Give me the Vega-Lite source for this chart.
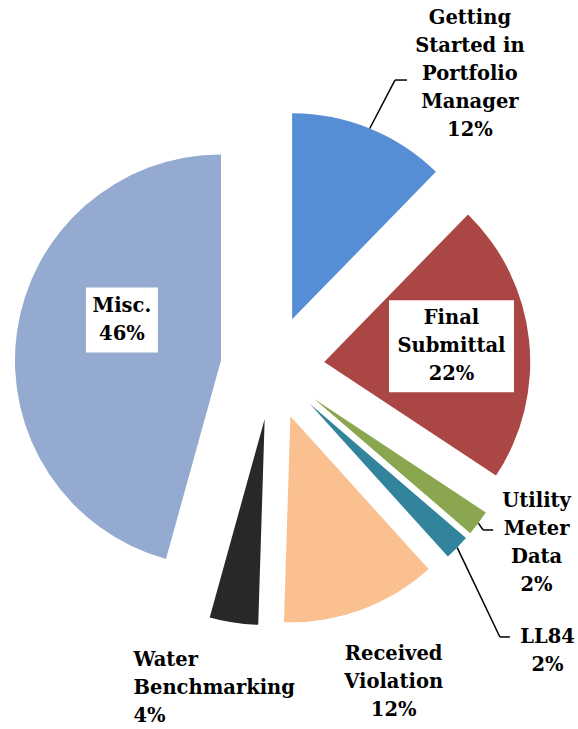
{
  "$schema": "https://vega.github.io/schema/vega-lite/v6.json",
  "width": 545,
  "height": 723,
  "autosize": {"type": "none"},
  "padding": {"left": 0, "right": 33, "top": 6, "bottom": 0},
  "background": "white",
  "view": {"stroke": null},
  "data": {
    "values": [
      {"i": 0, "cat": "Getting Started in Portfolio Manager", "label": "Getting\nStarted in\nPortfolio\nManager\n12%", "v": 12.3},
      {"i": 1, "cat": "Final Submittal", "label": "Final\nSubmittal\n22%", "v": 22.0},
      {"i": 2, "cat": "Utility Meter Data", "label": "Utility\nMeter\nData\n2%", "v": 2.0},
      {"i": 3, "cat": "LL84", "label": "LL84\n2%", "v": 2.0},
      {"i": 4, "cat": "Received Violation", "label": "Received\nViolation\n12%", "v": 12.2},
      {"i": 5, "cat": "Water Benchmarking", "label": "Water\nBenchmarking\n4%", "v": 3.8},
      {"i": 6, "cat": "Misc.", "label": "Misc.\n46%", "v": 45.7}
    ]
  },
  "transform": [
    {"stack": "v", "groupby": [], "sort": [{"field": "i", "order": "ascending"}], "as": ["a0", "a1"]}
  ],
  "layer": [
    {
      "mark": {
        "type": "arc",
        "outerRadius": 206,
        "x": {"expr": "width/2 + 52*sin(PI*(datum.a0+datum.a1)/100)"},
        "y": {"expr": "height/2 - 52*cos(PI*(datum.a0+datum.a1)/100)"}
      },
      "encoding": {
        "theta": {"field": "a0", "type": "quantitative", "stack": null, "scale": {"domain": [0, 100]}},
        "theta2": {"field": "a1"},
        "color": {
          "field": "cat",
          "type": "nominal",
          "legend": null,
          "scale": {
            "domain": ["Getting Started in Portfolio Manager", "Final Submittal", "Utility Meter Data", "LL84", "Received Violation", "Water Benchmarking", "Misc."],
            "range": ["#558ED5", "#AA4643", "#8AA64F", "#31849B", "#FAC090", "#282828", "#94AAD1"]
          }
        }
      }
    },
    {
      "transform": [{"filter": {"field": "i", "oneOf": [1, 6]}}],
      "mark": {
        "type": "rect",
        "fill": "white",
        "x": {"expr": "width/2 + (52 + [294,128,264,342,285,274,104][datum.i])*sin(PI*(datum.a0+datum.a1)/100) + [67,0,12,-7,5,-90,4][datum.i] - [0,62.5,0,0,0,0,36][datum.i]"},
        "x2": {"expr": "width/2 + (52 + [294,128,264,342,285,274,104][datum.i])*sin(PI*(datum.a0+datum.a1)/100) + [67,0,12,-7,5,-90,4][datum.i] + [0,62.5,0,0,0,0,36][datum.i]"},
        "y": {"expr": "height/2 - (52 + [294,128,264,342,285,274,104][datum.i])*cos(PI*(datum.a0+datum.a1)/100) + [27,-2,-15,8,-2,-2,-26][datum.i] - [0,46,0,0,0,0,33][datum.i]"},
        "y2": {"expr": "height/2 - (52 + [294,128,264,342,285,274,104][datum.i])*cos(PI*(datum.a0+datum.a1)/100) + [27,-2,-15,8,-2,-2,-26][datum.i] + [0,46,0,0,0,0,32][datum.i]"}
      },
      "encoding": {}
    },
    {
      "transform": [{"filter": {"field": "i", "oneOf": [0, 2, 3]}}],
      "mark": {"type": "rule", "color": "black", "strokeWidth": 1.5},
      "encoding": {
        "x": {"value": {"expr": "width/2 + 258*sin(PI*(datum.a0+datum.a1)/100)"}},
        "y": {"value": {"expr": "height/2 - 258*cos(PI*(datum.a0+datum.a1)/100)"}},
        "x2": {"value": {"expr": "width/2 + (52 + [260.5,0,214,299][datum.i])*sin(PI*(datum.a0+datum.a1)/100) + [4.7,0,-1.6,-23.9][datum.i]"}},
        "y2": {"value": {"expr": "height/2 - (52 + [260.5,0,214,299][datum.i])*cos(PI*(datum.a0+datum.a1)/100) + [2,0,2.1,24.4][datum.i]"}}
      }
    },
    {
      "transform": [{"filter": {"field": "i", "oneOf": [0, 2, 3]}}],
      "mark": {"type": "rule", "color": "black", "strokeWidth": 1.5},
      "encoding": {
        "x": {"value": {"expr": "width/2 + (52 + [260.5,0,214,299][datum.i])*sin(PI*(datum.a0+datum.a1)/100) + [4.7,0,-1.6,-23.9][datum.i]"}},
        "y": {"value": {"expr": "height/2 - (52 + [260.5,0,214,299][datum.i])*cos(PI*(datum.a0+datum.a1)/100) + [2,0,2.1,24.4][datum.i]"}},
        "x2": {"value": {"expr": "width/2 + (52 + [260.5,0,214,299][datum.i])*sin(PI*(datum.a0+datum.a1)/100) + [4.7,0,-1.6,-23.9][datum.i] + [12,0,10,10][datum.i]"}},
        "y2": {"value": {"expr": "height/2 - (52 + [260.5,0,214,299][datum.i])*cos(PI*(datum.a0+datum.a1)/100) + [2,0,2.1,24.4][datum.i]"}}
      }
    },
    {
      "mark": {
        "type": "text",
        "font": "DejaVu Serif",
        "fontWeight": "bold",
        "fontSize": 19.5,
        "lineHeight": 28,
        "lineBreak": "\n",
        "color": "black",
        "baseline": "middle",
        "align": {"expr": "datum.i == 5 ? 'left' : 'center'"},
        "x": {"expr": "width/2 + (52 + [294,128,264,342,285,274,104][datum.i])*sin(PI*(datum.a0+datum.a1)/100) + [67,0,12,-7,5,-90,4][datum.i]"},
        "y": {"expr": "height/2 - (52 + [294,128,264,342,285,274,104][datum.i])*cos(PI*(datum.a0+datum.a1)/100) + [-29,-30,-57,-6,-30,-30,-40][datum.i]"}
      },
      "encoding": {
        "text": {"field": "label", "type": "nominal"}
      }
    }
  ]
}
